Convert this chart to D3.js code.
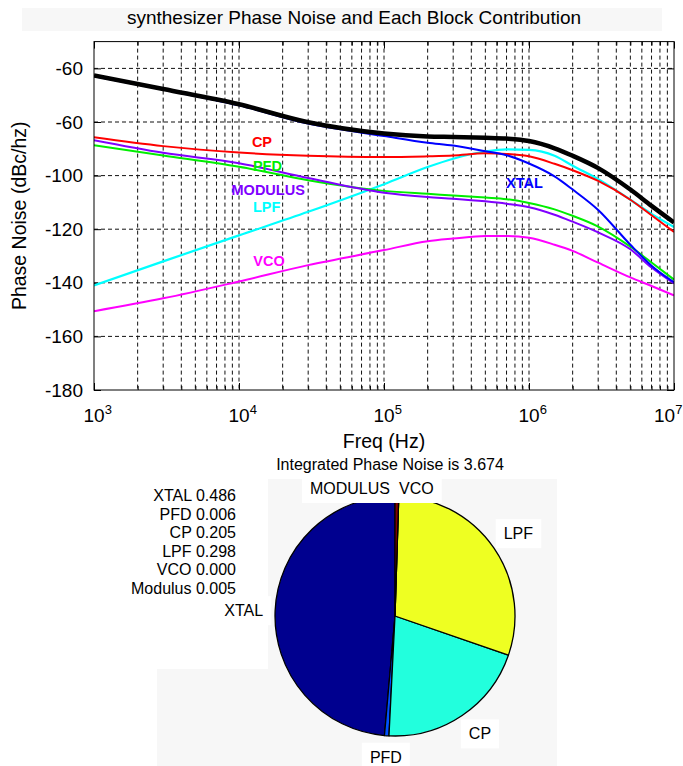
<!DOCTYPE html>
<html>
<head>
<meta charset="utf-8">
<script src="https://cdn.jsdelivr.net/npm/d3@7"></script>
<style>
  body { margin: 0; background: #fff; }
  svg { display: block; font-family: "Liberation Sans", Arial, sans-serif; }
</style>
</head>
<body>
<div id="chart"></div>
<script>
// offset frequencies (Hz) where the curves were read
const freqs = [1e3, 3e3, 1e4, 3e4, 1e5, 2e5, 3e5, 5e5, 7e5, 1e6, 1.5e6, 2e6, 3e6, 5e6, 7e6, 1e7];

// phase noise of each block (dBc/Hz)
const totalNoise   = [-62.6, -67.7, -73.4, -80.1, -84.3, -85.4, -85.6, -85.9, -86.2, -87.1, -89.8, -92.6, -97.2, -105.2, -111.3, -117.5];
const xtalNoise    = [-62.9, -67.9, -73.8, -80.6, -85.2, -87.7, -88.8, -90.9, -92.4, -95.5, -100.3, -105.2, -112.8, -125.8, -133.6, -139.8];
const cpNoise      = [-85.7, -89.0, -91.4, -92.6, -93.1, -92.8, -92.5, -91.7, -91.9, -92.8, -95.6, -98.0, -102.0, -109.0, -114.8, -121.0];
const pfdNoise     = [-88.7, -92.5, -96.7, -101.7, -105.7, -106.8, -107.4, -108.2, -108.8, -110.2, -112.6, -115.0, -119.0, -126.5, -132.4, -138.8];
const modulusNoise = [-86.8, -91.5, -95.4, -100.9, -106.4, -108.0, -108.6, -109.6, -110.5, -111.8, -114.6, -117.2, -121.2, -127.5, -134.3, -140.2];
const lpfNoise     = [-141.0, -132.0, -122.3, -113.5, -103.2, -96.8, -93.7, -91.0, -90.2, -90.4, -92.6, -96.3, -101.3, -109.0, -114.3, -119.2];
const vcoNoise     = [-150.6, -145.8, -139.5, -133.4, -127.8, -124.5, -123.5, -122.5, -122.5, -123.2, -125.8, -128.1, -132.5, -138.0, -141.2, -144.7];

// axis ticks
const decades = [1e3, 1e4, 1e5, 1e6, 1e7];
const yTickValues = [-60, -80, -100, -120, -140, -160, -180];
const yTickLabels = ["-60", "-60", "-100", "-120", "-140", "-160", "-180"];

// pie (share of integrated noise)
const pieNames  = ["XTAL", "PFD", "CP", "LPF", "VCO", "MODULUS"];
const listNames = ["XTAL", "PFD", "CP", "LPF", "VCO", "Modulus"];
const pieShares = [0.486, 0.006, 0.205, 0.298, 0.000, 0.005];
const integratedNoise = "3.674";

const W = 683, H = 766;
const plot = { left: 94, right: 674, top: 41.6, bottom: 390 };

const svg = d3.select("#chart").append("svg")
    .attr("width", W)
    .attr("height", H);

svg.append("rect").attr("width", W).attr("height", H).attr("fill", "#fff");
// faint band behind the title (screenshot artefact)
svg.append("rect").attr("x", 22).attr("y", 8).attr("width", 640).attr("height", 23).attr("fill", "#f7f7f7");

const x = d3.scaleLog().domain([1e3, 1e7]).range([plot.left, plot.right]);
const y = d3.scaleLinear().domain([-180, -50]).range([plot.bottom, plot.top]);

svg.append("text")
    .attr("x", 354).attr("y", 24)
    .attr("text-anchor", "middle")
    .attr("font-size", 19)
    .text("synthesizer Phase Noise and Each Block Contribution");

svg.append("clipPath").attr("id", "clip")
  .append("rect")
    .attr("x", plot.left).attr("y", plot.top)
    .attr("width", plot.right - plot.left).attr("height", plot.bottom - plot.top);

// grid
const minorTicks = x.ticks().filter(d => d > 1e3 && d < 1e7);
const grid = svg.append("g")
    .attr("stroke", "#111")
    .attr("stroke-width", 1)
    .attr("stroke-dasharray", "4,3");

grid.selectAll(".vg")
    .data(minorTicks)
    .join("line")
    .attr("x1", d => x(d)).attr("x2", d => x(d))
    .attr("y1", plot.top).attr("y2", plot.bottom);

grid.selectAll(".hg")
    .data(yTickValues.filter(d => d > -180))
    .join("line")
    .attr("x1", plot.left).attr("x2", plot.right)
    .attr("y1", d => y(d)).attr("y2", d => y(d));

// inside ticks on all four sides
const noDomain = g => g.select(".domain").remove();
svg.append("g").attr("transform", `translate(0,${plot.bottom})`)
    .call(d3.axisBottom(x).tickValues(minorTicks).tickSize(-4).tickFormat(""))
    .call(noDomain);
svg.append("g").attr("transform", `translate(0,${plot.bottom})`)
    .call(d3.axisBottom(x).tickValues(decades).tickSize(-7).tickFormat(""))
    .call(noDomain);
svg.append("g").attr("transform", `translate(0,${plot.top})`)
    .call(d3.axisTop(x).tickValues(minorTicks).tickSize(-4).tickFormat(""))
    .call(noDomain);
svg.append("g").attr("transform", `translate(0,${plot.top})`)
    .call(d3.axisTop(x).tickValues(decades).tickSize(-7).tickFormat(""))
    .call(noDomain);
svg.append("g").attr("transform", `translate(${plot.left},0)`)
    .call(d3.axisLeft(y).tickValues(yTickValues).tickSize(-7).tickPadding(11)
        .tickFormat((d, i) => yTickLabels[i]))
    .call(noDomain)
    .call(g => g.selectAll("text").attr("font-size", 19).attr("fill", "#000")
        .attr("font-family", "Liberation Sans, Arial, sans-serif"));
svg.append("g").attr("transform", `translate(${plot.right},0)`)
    .call(d3.axisRight(y).tickValues(yTickValues).tickSize(-7).tickFormat(""))
    .call(noDomain);

// decade labels 10^n ("10" centred on the tick, last one kept inside)
const xl = svg.append("g").attr("font-size", 19);
decades.forEach((d, i) => {
    const last = i === decades.length - 1;
    const t = xl.append("text")
        .attr("x", last ? x(d) - 20 : x(d) - 10.5).attr("y", 422)
        .attr("text-anchor", "start");
    t.append("tspan").text("10");
    t.append("tspan").attr("font-size", 13).attr("dy", -8).text(Math.round(Math.log10(d)));
});

svg.append("text")
    .attr("x", 384).attr("y", 448)
    .attr("text-anchor", "middle")
    .attr("font-size", 19.5)
    .text("Freq (Hz)");

svg.append("text")
    .attr("transform", `translate(26,${(plot.top + plot.bottom) / 2}) rotate(-90)`)
    .attr("text-anchor", "middle")
    .attr("font-size", 19.5)
    .text("Phase Noise (dBc/hz)");

// curves
const series = [
    { name: "VCO", values: vcoNoise, color: "#ff00ff", width: 2 },
    { name: "LPF", values: lpfNoise, color: "#00ffff", width: 2.2 },
    { name: "PFD", values: pfdNoise, color: "#00ee00", width: 2 },
    { name: "MODULUS", values: modulusNoise, color: "#8000ff", width: 2 },
    { name: "CP", values: cpNoise, color: "#ff0000", width: 2 },
    { name: "XTAL", values: xtalNoise, color: "#0000ff", width: 2 },
    { name: "total", values: totalNoise, color: "#000000", width: 4.5 }
];

const line = d3.line()
    .x((d, i) => x(freqs[i]))
    .y(d => y(d))
    .curve(d3.curveMonotoneX);

svg.append("g").attr("clip-path", "url(#clip)")
  .selectAll("path")
  .data(series)
  .join("path")
    .attr("fill", "none")
    .attr("stroke", d => d.color)
    .attr("stroke-width", d => d.width)
    .attr("stroke-linejoin", "round")
    .attr("d", d => line(d.values));

// curve labels, placed in data coordinates
const curveLabels = [
    { text: "CP", f: 14400, db: -87.5, color: "#ff0000" },
    { text: "PFD", f: 15700, db: -96.5, color: "#00ee00" },
    { text: "MODULUS", f: 15900, db: -105.4, color: "#8000ff" },
    { text: "LPF", f: 15500, db: -111.8, color: "#00ffff" },
    { text: "VCO", f: 16100, db: -131.9, color: "#ff00ff" },
    { text: "XTAL", f: 931000, db: -102.8, color: "#0000ff" }
];
svg.append("g")
    .attr("font-size", 14.5)
    .attr("font-weight", "bold")
    .attr("text-anchor", "middle")
  .selectAll("text")
  .data(curveLabels)
  .join("text")
    .attr("x", d => x(d.f))
    .attr("y", d => y(d.db) + 5)
    .attr("fill", d => d.color)
    .text(d => d.text);

svg.append("rect")
    .attr("x", plot.left).attr("y", plot.top)
    .attr("width", plot.right - plot.left).attr("height", plot.bottom - plot.top)
    .attr("fill", "none").attr("stroke", "#000").attr("stroke-width", 1);

// ---- pie ----
svg.append("text")
    .attr("x", 390).attr("y", 470)
    .attr("text-anchor", "middle")
    .attr("font-size", 16)
    .text("Integrated Phase Noise is " + integratedNoise);

svg.append("rect").attr("x", 157).attr("y", 479).attr("width", 400).attr("height", H - 479).attr("fill", "#f7f7f7");
svg.append("rect").attr("x", 157).attr("y", 479).attr("width", 111).attr("height", 190).attr("fill", "#fff");

svg.append("g")
    .attr("font-size", 16)
    .attr("text-anchor", "end")
  .selectAll("text")
  .data(listNames)
  .join("text")
    .attr("x", 236)
    .attr("y", (d, i) => 501 + i * 18.6)
    .text((d, i) => d + " " + pieShares[i].toFixed(3));

const cx = 395, cy = 616, r = 120;
const pieColors = d3.scaleOrdinal()
    .domain(pieNames)
    .range(["#00008f", "#0050ff", "#22ffdd", "#eeff22", "#ff5000", "#800000"]);

// MATLAB draws slices counter-clockwise from 12 o'clock
const arcs = d3.pie().sort(null).startAngle(0).endAngle(-2 * Math.PI)(pieShares);
const arc = d3.arc().innerRadius(0).outerRadius(r);

const pg = svg.append("g").attr("transform", `translate(${cx},${cy})`);
pg.selectAll("path")
  .data(arcs)
  .join("path")
    .attr("d", arc)
    .attr("fill", (d, i) => pieColors(pieNames[i]))
    .attr("stroke", "#000")
    .attr("stroke-width", 1.3)
    .attr("stroke-linejoin", "round");

// labels at 1.1 r, aligned away from the pie
const lg = svg.append("g").attr("font-size", 16);
arcs.forEach((d, i) => {
    const name = pieNames[i];
    const a = (d.startAngle + d.endAngle) / 2;
    const sx = Math.sin(a), sy = -Math.cos(a);
    const px = cx + sx * r * 1.1;
    const py = cy + sy * r * 1.1;
    let anchor = "middle", tx = px, ty = py + 6;
    if (name === "MODULUS") { anchor = "end"; tx = cx - 5; ty = cy - r - 2; }
    else if (name === "VCO") { anchor = "start"; tx = cx + 4; ty = cy - r - 2; }
    else if (Math.abs(sx) > 0.3) {
        anchor = sx > 0 ? "start" : "end";
        ty = py + 6 + (sy > 0.5 ? 8 : sy < -0.5 ? -8 : 0);
    }
    else { ty = py + (sy > 0 ? 15 : -3); }
    const t = lg.append("text")
        .attr("x", tx).attr("y", ty)
        .attr("text-anchor", anchor)
        .text(name);
    const b = t.node().getBBox();
    lg.insert("rect", "text")
        .attr("x", b.x - 8).attr("y", b.y - 6)
        .attr("width", b.width + 16).attr("height", b.height + 12)
        .attr("fill", "#fff");
});
</script>
</body>
</html>
